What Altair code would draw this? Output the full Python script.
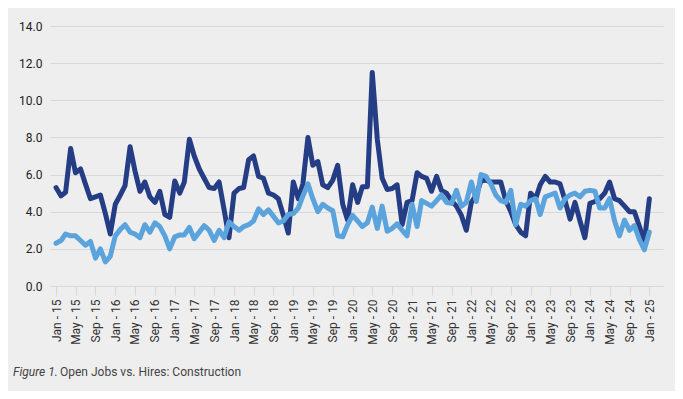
import altair as alt
import pandas as pd

# Monthly rates (%), Jan 2015 - Jan 2025
open_jobs = [
    5.3, 4.85, 5.05, 7.4, 6.1, 6.3, 5.5, 4.7, 4.8, 4.9, 3.9, 2.8,
    4.4, 4.9, 5.4, 7.5, 6.2, 5.1, 5.6, 4.8, 4.5, 5.1, 3.85, 3.7,
    5.65, 5.0, 5.6, 7.9, 7.0, 6.3, 5.8, 5.3, 5.25, 5.6, 4.1, 2.6,
    5.0, 5.25, 5.3, 6.8, 7.0, 5.9, 5.8, 5.0, 4.9, 4.7, 3.8, 2.85,
    5.6, 4.7, 5.5, 8.0, 6.5, 6.7, 5.45, 5.3, 5.7, 6.5, 4.4, 3.55,
    5.45, 4.5, 5.35, 5.35, 11.5, 7.9, 5.8, 5.2, 5.25, 5.45, 3.3, 4.5,
    4.6, 6.1, 5.9, 5.8, 5.1, 5.9, 5.15, 5.0, 4.6, 4.3, 3.8, 3.0,
    4.5, 4.9, 5.65, 5.7, 5.6, 5.6, 5.6, 4.6, 4.0, 3.3, 2.9, 2.7,
    5.0, 4.7, 5.45, 5.9, 5.6, 5.6, 5.5, 4.6, 3.6, 4.5, 3.5, 2.6,
    4.45, 4.55, 4.7, 5.0, 5.6, 4.7, 4.6, 4.3, 4.0, 4.0, 3.2, 2.35,
    4.7,
]
hires = [
    2.3, 2.45, 2.8, 2.7, 2.7, 2.45, 2.2, 2.4, 1.5, 2.0, 1.3, 1.6,
    2.7, 3.05, 3.3, 2.9, 2.8, 2.6, 3.3, 2.9, 3.4, 3.2, 2.7, 2.0,
    2.65, 2.75, 2.75, 3.15, 2.55, 2.9, 3.25, 3.0, 2.45, 3.0, 2.6, 3.45,
    3.2, 3.0, 3.2, 3.3, 3.5, 4.15, 3.85, 4.1, 3.75, 3.4, 3.5, 3.85,
    3.9, 4.2, 4.85, 5.5, 4.7, 4.0, 4.4, 4.2, 4.05, 2.7, 2.65, 3.3,
    3.8, 3.5, 3.2, 3.4, 4.25, 3.1, 4.3, 2.95, 3.1, 3.35, 3.0, 2.7,
    4.4, 3.2, 4.6, 4.45, 4.3, 4.6, 4.9, 4.5, 4.45, 5.15, 4.3, 4.5,
    5.6, 4.55, 6.0, 5.9, 5.5, 4.9, 4.6, 4.5, 5.15, 3.3, 4.4, 4.3,
    4.6, 4.7, 3.85, 4.8, 4.9, 5.0, 4.2, 4.7, 4.9, 5.0, 4.8, 5.1,
    5.15, 5.1, 4.2, 4.2, 4.7, 3.5, 2.7, 3.55, 3.0, 3.25, 2.5, 1.95,
    2.9,
]
months = (
    pd.date_range("2015-01-01", periods=len(open_jobs), freq="MS")
    .strftime("%Y-%m-%dT00:00:00")
    .tolist()
)
tick_months = [(y, m) for y in range(2015, 2026) for m in (1, 5, 9) if (y, m) <= (2025, 1)]
y_ticks = [0, 2, 4, 6, 8, 10, 12, 14]
caption_italic = ["Figure 1."]
caption_rest = ["Open Jobs vs. Hires: Construction"]

DARK = "#253d85"
LIGHT = "#5aa3dc"
GRID = "#d8d8d8"
FONT = "Roboto"

df = pd.DataFrame({"date": months, "open_jobs": open_jobs, "hires": hires})

x_enc = alt.X(
    "date:T",
    title=None,
    scale=alt.Scale(
        domain=[
            alt.DateTime(year=2014, month=11, date=25),
            alt.DateTime(year=2025, month=3, date=26),
        ]
    ),
    axis=alt.Axis(
        values=[alt.DateTime(year=y, month=m, date=1) for y, m in tick_months],
        format="%b - %y",
        labelAngle=270,
        labelFont=FONT,
        labelFontSize=12,
        labelColor="#333333",
        labelPadding=4,
        tickColor=GRID,
        tickSize=9,
        domainColor=GRID,
        grid=False,
        labelOverlap=False,
    ),
)

y_axis = alt.Axis(
    values=y_ticks,
    format=".1f",
    grid=True,
    gridColor=GRID,
    domain=False,
    ticks=False,
    labelPadding=8,
    labelFont=FONT,
    labelFontSize=12,
    labelColor="#222222",
)
y_scale = alt.Scale(domain=[0, 14])

line_open = alt.Chart(df).mark_line(
    color=DARK, strokeWidth=5, strokeJoin="round", strokeCap="round"
).encode(
    x=x_enc,
    y=alt.Y("open_jobs:Q", title=None, scale=y_scale, axis=y_axis),
)

line_hires = alt.Chart(df).mark_line(
    color=LIGHT, strokeWidth=5, strokeJoin="round", strokeCap="round"
).encode(
    x=x_enc,
    y=alt.Y("hires:Q", title=None, scale=y_scale, axis=y_axis),
)

cap1 = alt.Chart(pd.DataFrame({"t": caption_italic})).mark_text(
    align="left", baseline="middle", font=FONT, fontSize=12,
    fontStyle="italic", color="#444444",
).encode(text="t:N", x=alt.value(-37), y=alt.value(346))

cap2 = alt.Chart(pd.DataFrame({"t": caption_rest})).mark_text(
    align="left", baseline="middle", font=FONT, fontSize=12, color="#444444",
).encode(text="t:N", x=alt.value(10), y=alt.value(346))

chart = (
    alt.layer(line_open, line_hires, cap1, cap2)
    .properties(
        width=613,
        height=260,
        autosize=alt.AutoSizeParams(type="none"),
        padding={"left": 42, "top": 18, "right": 12, "bottom": 105},
        background="#eeeeee",
    )
    .configure_view(stroke=None)
)

chart.save("out.html", embed_options={"renderer": "svg", "actions": False})
